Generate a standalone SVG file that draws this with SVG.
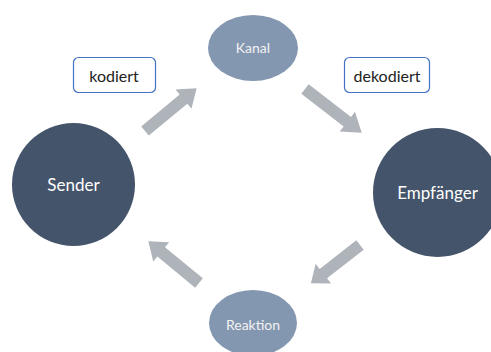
<svg xmlns="http://www.w3.org/2000/svg" width="491" height="352" viewBox="0 0 491 352">
<style>
.dark{fill:#44546A}
.light{fill:#8497B0}
.arr{fill:#AFB3BA}
.box{fill:#fff;stroke:#4472C4;stroke-width:1.2}
text{font-family:Lato,"Open Sans","Liberation Sans",sans-serif;text-anchor:middle;dominant-baseline:central}
.wt{fill:#fff;font-size:17px}
.lt{fill:#F2F2F2;font-size:14px}
.bt{fill:#222;font-size:16px}
</style>
<defs>
<polygon id="ar" points="0,-6 50,-6 50,-12.5 67,0 50,12.5 50,6 0,6"/>
</defs>
<rect width="491" height="352" fill="#fff"/>
<g id="connectors">
<use href="#ar" class="arr" transform="translate(145,131) rotate(-39.6)"/>
<use href="#ar" class="arr" transform="translate(305,89) rotate(37.7) scale(1.07,1)"/>
<use href="#ar" class="arr" transform="translate(360,245) rotate(142) scale(0.93,1)"/>
<use href="#ar" class="arr" transform="translate(199,283) rotate(219.5) scale(0.98,1)"/>
</g>
<g id="kanal">
<ellipse class="light" cx="253" cy="48" rx="45" ry="33"/>
<text class="lt" x="253" y="47">Kanal</text>
</g>
<g id="kodiert">
<rect class="box" x="73.5" y="57.5" width="82" height="35" rx="5"/>
<text class="bt" x="114" y="75">kodiert</text>
</g>
<g id="dekodiert">
<rect class="box" x="344.5" y="57.5" width="85" height="35" rx="5"/>
<text class="bt" x="387" y="75">dekodiert</text>
</g>
<g id="sender">
<circle class="dark" cx="73.5" cy="184.5" r="61.5"/>
<text class="wt" x="73.5" y="184">Sender</text>
</g>
<g id="empfaenger">
<circle class="dark" cx="437.5" cy="192.5" r="64.5"/>
<text class="wt" x="437.5" y="192">Empfänger</text>
</g>
<g id="reaktion">
<ellipse class="light" cx="253" cy="323" rx="44" ry="33"/>
<text class="lt" x="253" y="324">Reaktion</text>
</g>
</svg>
